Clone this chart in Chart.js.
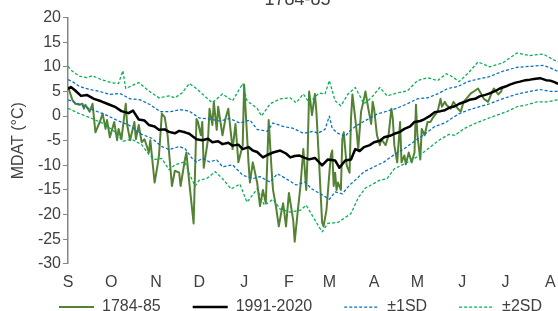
<!DOCTYPE html>
<html>
<head>
<meta charset="utf-8">
<script src="https://cdn.jsdelivr.net/npm/chart.js@4.4.0/dist/chart.umd.min.js"></script>
<style>
  html, body { margin: 0; padding: 0; background: #fff; overflow: hidden; }
  #wrap { position: relative; width: 558px; height: 311px; overflow: hidden; }
  #chart { position: absolute; left: 0; top: -15px; }
</style>
</head>
<body>
<div id="wrap"><canvas id="chart" width="616" height="374"></canvas></div>
<script>
// day 0 = 1 September, months start on these days
const monthStarts = [0, 30, 61, 91, 122, 153, 181, 212, 242, 273, 303, 334];
const monthLabels = ['S', 'O', 'N', 'D', 'J', 'F', 'M', 'A', 'M', 'J', 'J', 'A'];

// 1784-85 daily mean temperature
const days1784 = [0,3,5,8,10,11,12,15,17,19,22,24,26,27,29,32,34,35,37,40,41,43,46,47,49,51,53,56,57,60,62,63,65,67,69,70,72,74,77,78,81,82,84,87,89,90,92,93,94,97,98,100,101,103,104,107,109,111,114,116,118,121,122,124,125,126,128,131,133,135,137,139,141,142,144,146,148,149,151,153,156,157,159,161,163,165,166,167,169,171,172,174,176,177,179,182,183,184,185,186,187,189,190,191,192,193,195,196,197,199,200,201,203,205,206,208,210,211,212,214,216,217,220,222,224,225,226,228,230,231,233,234,236,238,240,241,242,244,245,247,249,251,253,256,258,259,261,262,265,267,270,272,274,277,279,281,284,286,288,291,293,295,298,300,301];
const temp1784 = [6.0,3.3,2.5,2.3,2.5,1.5,2.3,0.9,2.5,-3.3,-1.2,0.5,-2.6,-0.8,-4.3,-1.2,-4.9,-2.6,-4.7,2.5,-1.8,-4.9,-1.2,-4.7,-1.8,-5.3,-4.7,-7.4,-4.9,-13.5,-10.0,-8.0,0.5,-0.2,-3.9,-7.4,-14.2,-11.1,-11.5,-14.2,-8.8,-7.4,-13.5,-21.8,-0.6,-1.2,-3.9,-1.2,-10.5,-4.7,1.5,-1.8,2.9,-2.8,1.9,-3.9,-0.6,1.5,-6.7,-1.6,-9.4,-5.9,6.4,-3.9,-9.4,-13.5,-9.4,-13.5,-18.3,-15.0,-17.7,-0.8,-10.9,-15.0,-18.3,-22.4,-19.1,-17.7,-22.4,-15.6,-21.2,-25.5,-19.7,-14.2,-6.7,-15.0,-7.4,5.0,0.2,4.5,1.0,-10.0,-21.6,-22.4,-19.1,-8.0,-7.0,-14.2,-11.5,-15.0,-13.5,-15.0,-4.7,-3.3,-6.7,-10.0,-11.5,-0.6,4.4,-0.6,-3.3,-6.7,0.9,3.5,5.0,1.5,-1.6,2.9,1.5,-3.9,-5.9,-4.7,-5.9,-3.9,1.5,-0.6,-5.9,-9.4,-1.2,-9.4,-8.0,-9.8,-7.4,-9.4,-7.4,2.3,-3.9,-8.8,-2.6,-3.9,-1.2,-1.2,-0.2,0.9,3.5,1.9,2.9,2.3,1.5,2.9,1.5,0.9,2.9,3.9,4.6,5.0,5.6,4.6,3.5,2.9,4.4,5.6,4.4,5.0,6.0];

// 1991-2020 mean
const daysNorm = [0,2,5,9,13,18,23,28,33,37,42,45,49,53,56,60,63,67,70,74,77,81,84,89,93,97,100,104,107,111,114,118,121,125,128,131,135,138,142,147,151,154,157,160,164,167,171,176,180,185,188,192,196,199,202,205,209,212,216,219,223,226,230,233,237,240,244,247,251,254,258,261,265,268,271,275,278,282,285,289,292,296,299,303,306,310,313,317,320,324,327,331,334,337,339,345];
const tempNorm = [5.5,5.9,5.2,4.1,4.3,3.5,3.0,2.4,1.8,1.0,0.6,1.1,-0.7,-0.9,-1.8,-2.1,-2.8,-2.7,-3.2,-3.5,-3.0,-3.3,-3.6,-4.7,-4.9,-4.6,-5.3,-5.1,-5.7,-5.4,-6.0,-5.8,-6.7,-6.3,-7.0,-7.3,-8.4,-7.9,-7.4,-7.0,-7.6,-8.4,-8.1,-8.0,-8.5,-8.8,-8.5,-10.0,-8.8,-9.0,-10.5,-9.0,-8.8,-6.7,-7.1,-6.3,-5.9,-5.3,-5.0,-4.3,-4.0,-3.6,-3.2,-2.6,-2.1,-1.2,-1.0,-0.6,0.1,0.8,1.0,1.2,1.8,2.0,2.5,2.9,3.3,3.5,4.0,4.3,4.6,5.1,5.6,6.0,6.4,6.8,7.0,7.3,7.4,7.6,7.7,7.3,7.2,6.9,6.6,6.8];

// +1SD / -1SD
const daysUp1 = [0,3,8,15,22,29,36,43,50,57,64,71,78,84,91,98,105,112,119,126,131,138,142,149,156,163,170,173,178,181,183,187,192,195,199,203,208,214,221,228,235,242,249,256,263,270,277,284,292,301,311,320,329,334,339,345];
const tempUp1 = [7.4,7.0,6.0,5.4,5.0,4.4,4.6,3.5,3.3,2.3,0.9,0.9,1.3,1.0,-0.4,-0.6,-1.0,-0.5,-1.4,-0.8,-2.7,-3.1,-1.4,-2.1,-2.5,-3.5,-3.1,-3.5,-2.7,0.0,-2.5,-3.5,-4.1,-3.1,-2.1,-1.4,-0.6,0.4,1.0,1.6,2.5,3.5,3.7,4.5,5.6,6.0,7.0,7.5,8.0,9.1,9.9,10.1,10.3,9.8,9.1,9.4];
const daysLo1 = [0,2,8,14,25,35,42,51,58,65,70,77,81,86,89,93,98,103,107,114,121,128,133,140,145,151,158,164,169,176,181,185,190,195,199,205,212,219,226,233,240,247,254,261,265,271,278,285,292,299,306,313,320,327,334,339,345];
const tempLo1 = [3.3,3.1,2.4,1.6,0.4,-1.0,-1.8,-3.7,-4.5,-6.2,-6.8,-6.2,-6.6,-8.6,-9.3,-8.6,-9.3,-8.9,-10.3,-9.9,-12.0,-12.7,-12.3,-13.4,-11.7,-12.7,-14.0,-13.4,-14.8,-16.0,-16.9,-15.4,-15.8,-14.0,-13.0,-11.3,-10.3,-9.3,-7.8,-6.6,-5.1,-3.7,-2.1,-1.4,-0.6,0.5,1.3,1.9,2.5,3.3,4.0,4.6,5.0,5.4,5.0,5.0,5.2];

// +2SD / -2SD
const daysUp2 = [0,3,8,13,17,23,30,35,38,40,49,56,63,70,74,79,84,88,93,100,107,114,121,124,131,134,140,147,154,158,163,167,174,178,181,185,189,194,199,205,210,216,221,228,235,242,249,256,262,265,271,278,284,292,301,311,320,329,339,345];
const tempUp2 = [10.1,9.1,8.1,7.8,8.2,7.4,6.8,6.6,9.2,5.6,6.8,5.1,3.7,4.1,3.7,4.7,6.6,5.8,4.5,2.7,4.5,3.1,6.6,3.1,1.6,0.0,2.5,3.5,3.7,2.7,4.5,2.7,4.7,4.5,7.2,3.1,2.1,4.5,5.8,2.5,3.7,5.8,4.1,4.7,5.1,7.2,7.8,7.2,8.6,8.2,7.0,9.0,11.0,10.0,10.8,12.8,12.3,12.6,11.0,11.3];
const daysLo2 = [0,7,16,25,32,38,44,51,56,60,65,70,74,81,84,88,91,96,102,107,113,119,124,131,136,142,147,154,161,165,172,176,180,187,192,196,201,206,210,216,221,226,233,240,247,253,258,264,268,274,281,288,297,304,311,318,325,332,339,345];
const tempLo2 = [1.6,0.6,-0.4,-1.6,-3.1,-5.1,-4.7,-5.8,-7.8,-8.8,-8.6,-10.9,-9.9,-9.3,-11.7,-14.2,-13.0,-12.7,-11.3,-12.7,-14.8,-13.8,-17.5,-14.8,-18.1,-16.9,-18.9,-19.5,-19.1,-18.1,-21.6,-23.5,-21.8,-21.6,-20.6,-19.8,-16.6,-14.6,-14.0,-13.0,-12.7,-10.7,-9.7,-8.6,-7.2,-5.8,-4.7,-3.7,-3.9,-2.6,-1.6,-0.8,0.2,0.9,1.9,2.3,2.9,2.9,3.3,3.4];

const fontFamily = "'Liberation Sans', Arial, sans-serif";
const textColor = '#404040';
const axisColor = '#868686';

function pts(days, vals) {
    return days.map((d, i) => ({ x: d, y: vals[i] }));
}

const datasets = [
    { label: '1784-85', data: pts(days1784, temp1784), borderColor: '#548235', borderWidth: 2, order: 4 },
    { label: '1991-2020', data: pts(daysNorm, tempNorm), borderColor: '#000000', borderWidth: 2.5, order: 3 },
    { label: '±1SD', data: pts(daysUp1, tempUp1), borderColor: '#0070C0', borderWidth: 1.25, borderDash: [3, 2], order: 2 },
    { label: '±1SD', data: pts(daysLo1, tempLo1), borderColor: '#0070C0', borderWidth: 1.25, borderDash: [3, 2], order: 2, noLegend: true },
    { label: '±2SD', data: pts(daysUp2, tempUp2), borderColor: '#00B050', borderWidth: 1.25, borderDash: [3, 2], order: 1 },
    { label: '±2SD', data: pts(daysLo2, tempLo2), borderColor: '#00B050', borderWidth: 1.25, borderDash: [3, 2], order: 1, noLegend: true }
];

// the legend sits closer to the axis labels than Chart.js would place it
const nudgeLegend = {
    id: 'nudgeLegend',
    afterLayout(chart) {
        const lg = chart.legend;
        lg.top -= 34;
        lg.bottom -= 34;
        lg.left += 3;
        lg.right += 3;
    }
};

new Chart(document.getElementById('chart'), {
    type: 'line',
    data: { datasets: datasets },
    plugins: [nudgeLegend],
    options: {
        responsive: false,
        animation: false,
        devicePixelRatio: 1,
        layout: { padding: { left: 0, right: 21, top: 0, bottom: 0 } },
        elements: {
            point: { radius: 0 },
            line: { tension: 0, borderJoinStyle: 'round', fill: false }
        },
        plugins: {
            tooltip: { enabled: false },
            title: {
                display: true,
                text: '1784-85',
                color: textColor,
                font: { family: fontFamily, size: 18, weight: 'normal' },
                padding: { top: 4, bottom: 7 }
            },
            legend: {
                position: 'bottom',
                labels: {
                    usePointStyle: true,
                    pointStyle: 'line',
                    pointStyleWidth: 35,
                    padding: 32,
                    color: textColor,
                    font: { family: fontFamily, size: 16 },
                    generateLabels: (chart) => Chart.defaults.plugins.legend.labels.generateLabels(chart).map(item => {
                        const ds = chart.data.datasets[item.datasetIndex];
                        item.strokeStyle = ds.borderColor;
                        item.lineWidth = ds.borderWidth;
                        item.lineDash = ds.borderDash || [];
                        item.pointStyle = 'line';
                        return item;
                    }),
                    filter: (item, data) => !data.datasets[item.datasetIndex].noLegend,
                    sort: (a, b) => a.datasetIndex - b.datasetIndex
                }
            }
        },
        scales: {
            x: {
                type: 'linear',
                min: 0,
                max: 365,
                afterBuildTicks: (scale) => { scale.ticks = monthStarts.map(v => ({ value: v })); },
                ticks: {
                    autoSkip: false,
                    maxRotation: 0,
                    padding: 9,
                    color: textColor,
                    font: { family: fontFamily, size: 16 },
                    callback: (value, index) => monthLabels[index]
                },
                grid: { display: false, drawTicks: false },
                border: { display: false }
            },
            y: {
                min: -30,
                max: 20,
                afterFit: (scale) => { scale.width = 68; },
                ticks: {
                    stepSize: 5,
                    padding: 2,
                    color: textColor,
                    font: { family: fontFamily, size: 16 }
                },
                grid: { drawOnChartArea: false, drawTicks: true, tickLength: 5, color: axisColor, lineWidth: 1 },
                border: { display: true, color: axisColor, width: 1.5 },
                title: {
                    display: true,
                    text: 'MDAT (°C)',
                    color: textColor,
                    font: { family: fontFamily, size: 16 },
                    padding: { top: 9, bottom: 0 }
                }
            }
        }
    }
});
</script>
</body>
</html>
